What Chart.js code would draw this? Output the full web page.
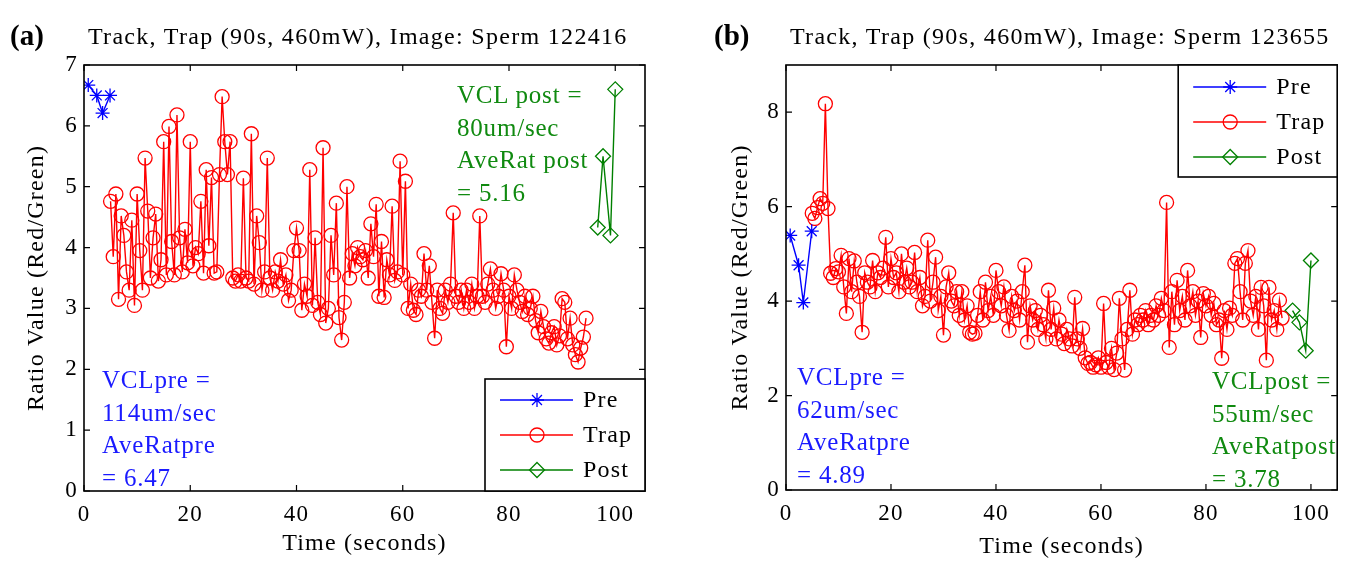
<!DOCTYPE html>
<html>
<head>
<meta charset="utf-8">
<script src="https://cdn.jsdelivr.net/npm/chart.js@4.4.1/dist/chart.umd.min.js"></script>
<style>
  body { margin: 0; background: #fff; width: 1346px; height: 561px; overflow: hidden; position: relative;
         font-family: "Liberation Serif", serif; }
  canvas { position: absolute; top: 0; }
  #chartA { left: 0; }
  #chartB { left: 673px; }
  .lbl { position: absolute; font-weight: bold; font-size: 29px; line-height: 32px; }
  .ttl { position: absolute; font-size: 24px; letter-spacing: 1.3px; line-height: 28px; white-space: nowrap; }
  .note { position: absolute; font-size: 25px; letter-spacing: 0.8px; line-height: 32.5px; white-space: pre; }
  .blue { color: #1a1aff; }
  .green { color: #108a10; }
</style>
</head>
<body>
<canvas id="chartA" width="673" height="561"></canvas>
<canvas id="chartB" width="673" height="561"></canvas>

<div class="lbl" style="left:10px;top:19px">(a)</div>
<div class="ttl" style="left:88px;top:22px">Track, Trap (90s, 460mW), Image: Sperm 122416</div>
<div class="lbl" style="left:714px;top:19px">(b)</div>
<div class="ttl" style="left:790px;top:22px">Track, Trap (90s, 460mW), Image: Sperm 123655</div>

<div class="note blue" style="left:102px;top:364px">VCLpre =
114um/sec
AveRatpre
= 6.47</div>
<div class="note green" style="left:457px;top:79px">VCL post =
80um/sec
AveRat post
= 5.16</div>
<div class="note blue" style="left:797px;top:361px">VCLpre =
62um/sec
AveRatpre
= 4.89</div>
<div class="note green" style="left:1212px;top:365px">VCLpost =
55um/sec
AveRatpost
= 3.78</div>

<script>
// ================= DATA =================
const xTicks = [0, 20, 40, 60, 80, 100];
const yTicksA = [0, 1, 2, 3, 4, 5, 6, 7];
const yTicksB = [0, 2, 4, 6, 8];

// trap frames, both sperm (seconds)
const trapTimes = [
  5.0, 5.5, 6.0, 6.5, 7.0, 7.5, 8.0, 8.5, 9.0, 9.5,
  10.0, 10.5, 11.0, 11.5, 12.0, 12.5, 13.0, 13.5, 14.0, 14.5,
  15.0, 15.5, 16.0, 16.5, 17.0, 17.5, 18.0, 18.5, 19.0, 19.5,
  20.0, 20.5, 21.0, 21.5, 22.0, 22.5, 23.0, 23.5, 24.0, 24.5,
  25.0, 25.5, 26.0, 26.5, 27.0, 27.5, 28.0, 28.5, 29.0, 29.5,
  30.0, 30.5, 31.0, 31.5, 32.0, 32.5, 33.0, 33.5, 34.0, 34.5,
  35.0, 35.5, 36.0, 36.5, 37.0, 37.5, 38.0, 38.5, 39.0, 39.5,
  40.0, 40.5, 41.0, 41.5, 42.0, 42.5, 43.0, 43.5, 44.0, 44.5,
  45.0, 45.5, 46.0, 46.5, 47.0, 47.5, 48.0, 48.5, 49.0, 49.5,
  50.0, 50.5, 51.0, 51.5, 52.0, 52.5, 53.0, 53.5, 54.0, 54.5,
  55.0, 55.5, 56.0, 56.5, 57.0, 57.5, 58.0, 58.5, 59.0, 59.5,
  60.0, 60.5, 61.0, 61.5, 62.0, 62.5, 63.0, 63.5, 64.0, 64.5,
  65.0, 65.5, 66.0, 66.5, 67.0, 67.5, 68.0, 68.5, 69.0, 69.5,
  70.0, 70.5, 71.0, 71.5, 72.0, 72.5, 73.0, 73.5, 74.0, 74.5,
  75.0, 75.5, 76.0, 76.5, 77.0, 77.5, 78.0, 78.5, 79.0, 79.5,
  80.0, 80.5, 81.0, 81.5, 82.0, 82.5, 83.0, 83.5, 84.0, 84.5,
  85.0, 85.5, 86.0, 86.5, 87.0, 87.5, 88.0, 88.5, 89.0, 89.5,
  90.0, 90.5, 91.0, 91.5, 92.0, 92.5, 93.0, 93.5, 94.0, 94.5
];

// (a) Sperm 122416
const preTimesA = [0.8, 2.4, 3.5, 4.9];
const preRatioA = [6.67, 6.50, 6.21, 6.50];
const trapRatioA = [
  4.76, 3.85, 4.88, 3.15, 4.52, 4.20, 3.60, 3.30, 4.45, 3.05,
  4.88, 3.95, 3.30, 5.47, 4.60, 3.50, 4.16, 4.55, 3.45, 3.80,
  5.74, 3.55, 5.99, 4.10, 3.55, 6.18, 4.16, 3.60, 4.30, 3.75,
  5.74, 3.70, 4.00, 3.90, 4.76, 3.58, 5.28, 4.03, 5.15, 3.58,
  3.60, 5.20, 6.48, 5.74, 5.20, 5.74, 3.50, 3.45, 3.55, 3.45,
  5.14, 3.50, 3.45, 5.87, 3.40, 4.52, 4.08, 3.30, 3.60, 5.47,
  3.50, 3.30, 3.60, 3.45, 3.80, 3.40, 3.55, 3.13, 3.30, 3.95,
  4.32, 3.95, 2.97, 3.40, 3.20, 5.28, 3.05, 4.16, 3.10, 2.90,
  5.64, 2.76, 3.00, 4.20, 3.55, 4.73, 2.85, 2.48, 3.10, 5.00,
  3.50, 3.90, 3.70, 4.00, 3.85, 3.80, 3.95, 3.50, 4.39, 3.85,
  4.71, 3.20, 4.10, 3.18, 3.80, 3.55, 4.68, 3.46, 3.60, 5.42,
  3.55, 5.09, 3.00, 3.40, 2.97, 2.90, 3.30, 3.20, 3.90, 3.30,
  3.70, 3.10, 2.51, 3.30, 3.00, 2.92, 3.30, 3.10, 3.40, 4.57,
  3.20, 3.10, 3.30, 3.00, 3.30, 3.10, 3.40, 3.00, 3.20, 4.52,
  3.20, 3.10, 3.40, 3.65, 3.30, 3.00, 3.20, 3.57, 3.30, 2.37,
  3.20, 3.00, 3.55, 3.30, 3.10, 2.95, 3.20, 2.90, 3.00, 3.20,
  2.80, 2.60, 2.95, 2.70, 2.50, 2.43, 2.60, 2.70, 2.40, 2.55,
  3.16, 3.10, 2.50, 2.84, 2.40, 2.24, 2.12, 2.35, 2.53, 2.84
];
const postTimesA = [96.7, 97.7, 99.1, 100.0];
const postRatioA = [4.33, 5.50, 4.20, 6.60];

// (b) Sperm 123655
const preTimesB = [0.8, 2.4, 3.3, 4.9];
const preRatioB = [5.39, 4.76, 3.97, 5.48];
const trapRatioB = [
  5.86, 5.75, 5.98, 6.17, 6.07, 8.18, 5.96, 4.59, 4.50, 4.69,
  4.62, 4.97, 4.30, 3.74, 4.90, 4.20, 4.85, 4.40, 4.10, 3.34,
  4.60, 4.40, 4.30, 4.86, 4.20, 4.60, 4.50, 4.70, 5.35, 4.30,
  4.90, 4.50, 4.60, 4.20, 5.00, 4.40, 4.70, 4.30, 4.40, 5.03,
  4.20, 4.50, 3.90, 4.10, 5.29, 4.00, 4.40, 4.93, 3.80, 4.10,
  3.28, 4.30, 4.60, 4.00, 3.90, 4.20, 3.70, 4.20, 3.60, 3.90,
  3.34, 3.30, 3.32, 3.70, 4.20, 3.60, 4.40, 3.80, 4.10, 3.70,
  4.65, 4.20, 3.90, 4.30, 3.70, 3.38, 4.10, 3.80, 4.00, 3.60,
  4.20, 4.76, 3.13, 3.90, 3.60, 3.80, 3.40, 3.70, 3.50, 3.20,
  4.23, 3.40, 3.85, 3.20, 3.60, 3.30, 3.10, 3.40, 3.20, 3.05,
  4.08, 3.20, 3.00, 3.42, 2.80, 2.68, 2.70, 2.60, 2.65, 2.80,
  2.60, 3.95, 2.70, 2.60, 3.00, 2.55, 2.90, 4.06, 3.20, 2.54,
  3.40, 4.23, 3.30, 3.60, 3.50, 3.70, 3.60, 3.80, 3.50, 3.70,
  3.60, 3.90, 3.70, 4.06, 3.80, 6.09, 3.02, 4.20, 3.50, 4.44,
  3.80, 4.10, 3.60, 4.65, 3.90, 4.20, 3.70, 4.00, 3.23, 4.16,
  3.90, 4.10, 3.70, 3.95, 3.50, 3.60, 2.79, 3.80, 3.40, 3.85,
  3.70, 4.80, 4.90, 4.20, 3.60, 4.80, 5.07, 4.00, 3.70, 4.10,
  3.40, 4.29, 3.90, 2.75, 4.29, 3.60, 3.80, 3.40, 4.02, 3.64
];
const postTimesB = [96.5, 97.8, 99.0, 100.0];
const postRatioB = [3.80, 3.55, 2.95, 4.86];

// ================= STYLE =================
const FONT = '"Liberation Serif", serif';
const SPACING = '1.2px';
Chart.defaults.font.family = FONT;
Chart.defaults.color = '#000';

function pairs(times, values) {
  return times.map((t, i) => ({ x: t, y: values[i] }));
}

function series(label, data, color, style, radius) {
  return {
    label: label,
    data: data,
    borderColor: color,
    borderWidth: 1.4,
    pointStyle: style,
    pointRadius: radius,
    pointBorderColor: color,
    pointBackgroundColor: 'rgba(0,0,0,0)',
    pointBorderWidth: 1.3,
    tension: 0,
    fill: false
  };
}

// legend marker (same glyphs as the data markers)
function legendMarker(ctx, style, r, x, y) {
  ctx.beginPath();
  if (style === 'circle') {
    ctx.arc(x, y, r, 0, Math.PI * 2);
  } else if (style === 'rectRot') {
    ctx.moveTo(x, y - r); ctx.lineTo(x + r, y); ctx.lineTo(x, y + r); ctx.lineTo(x - r, y); ctx.closePath();
  } else {
    for (let k = 0; k < 4; k++) {
      const a = k * Math.PI / 4;
      ctx.moveTo(x - r * Math.cos(a), y - r * Math.sin(a));
      ctx.lineTo(x + r * Math.cos(a), y + r * Math.sin(a));
    }
  }
  ctx.stroke();
}

// ================= BOX, INWARD TICKS, LEGEND =================
const framePlugin = {
  id: 'frame',
  beforeUpdate(chart) { chart.ctx.letterSpacing = SPACING; },
  beforeDraw(chart) { chart.ctx.letterSpacing = SPACING; },
  afterDatasetsDraw(chart, args, opts) {
    const { ctx, chartArea: a, scales } = chart;
    const tl = 6;
    ctx.save();
    ctx.strokeStyle = '#000';
    ctx.lineWidth = 1.2;
    ctx.beginPath();
    scales.x.ticks.forEach(t => {
      const px = scales.x.getPixelForValue(t.value);
      ctx.moveTo(px, a.bottom); ctx.lineTo(px, a.bottom - tl);
      ctx.moveTo(px, a.top); ctx.lineTo(px, a.top + tl);
    });
    scales.y.ticks.forEach(t => {
      const py = scales.y.getPixelForValue(t.value);
      ctx.moveTo(a.left, py); ctx.lineTo(a.left + tl, py);
      ctx.moveTo(a.right, py); ctx.lineTo(a.right - tl, py);
    });
    ctx.stroke();
    ctx.lineWidth = 1.6;
    ctx.strokeRect(a.left, a.top, a.right - a.left, a.bottom - a.top);

    // legend box
    const w = opts.w, h = 112;
    const x0 = a.right - w;
    const y0 = opts.at === 'bottom' ? a.bottom - h : a.top;
    ctx.fillStyle = '#fff';
    ctx.fillRect(x0, y0, w, h);
    ctx.lineWidth = 1.6;
    ctx.strokeRect(x0, y0, w, h);
    ctx.font = '24px ' + FONT;
    ctx.letterSpacing = SPACING;
    ctx.textBaseline = 'middle';
    ctx.textAlign = 'left';
    chart.data.datasets.forEach((ds, i) => {
      const y = y0 + opts.rowTop + i * opts.rowGap;
      ctx.strokeStyle = ds.borderColor;
      ctx.lineWidth = 1.3;
      ctx.beginPath();
      ctx.moveTo(x0 + 15, y); ctx.lineTo(x0 + 88, y);
      ctx.stroke();
      legendMarker(ctx, ds.pointStyle, ds.pointRadius, x0 + 52, y);
      ctx.fillStyle = '#000';
      ctx.fillText(ds.label, x0 + 98, y + 1);
    });
    ctx.restore();
  }
};

function makeChart(id, cfg) {
  return new Chart(document.getElementById(id), {
    type: 'line',
    data: {
      datasets: [
        series('Pre', cfg.pre, '#0000ff', 'star', 7),
        series('Trap', cfg.trap, '#ff0000', 'circle', 7),
        series('Post', cfg.post, '#008000', 'rectRot', 7.5)
      ]
    },
    options: {
      responsive: false,
      animation: false,
      devicePixelRatio: 1,
      layout: { padding: cfg.pad },
      plugins: {
        legend: { display: false },
        tooltip: { enabled: false },
        frame: cfg.legend
      },
      scales: {
        x: {
          type: 'linear', min: 0, max: cfg.xMax,
          grid: { display: false, drawTicks: false },
          border: { display: false },
          ticks: { color: '#000', font: { size: 23 }, padding: 10, maxRotation: 0, autoSkip: false },
          afterBuildTicks: s => { s.ticks = xTicks.map(v => ({ value: v })); },
          afterFit: s => { s.height = cfg.xH; },
          title: { display: true, text: 'Time (seconds)', color: '#000', font: { size: 24 },
                   padding: { top: 0, bottom: cfg.xTitlePad } }
        },
        y: {
          type: 'linear', min: 0, max: cfg.yMax,
          grid: { display: false, drawTicks: false },
          border: { display: false },
          ticks: { color: '#000', font: { size: 23 }, padding: 6 },
          afterBuildTicks: s => { s.ticks = cfg.yTicks.map(v => ({ value: v })); },
          afterFit: s => { s.width = cfg.yW; },
          title: { display: true, text: 'Ratio Value (Red/Green)', color: '#000', font: { size: 24 },
                   padding: { top: 0, bottom: 0 } }
        }
      }
    },
    plugins: [framePlugin]
  });
}

makeChart('chartA', {
  pre: pairs(preTimesA, preRatioA),
  trap: pairs(trapTimes, trapRatioA),
  post: pairs(postTimesA, postRatioA),
  xMax: 105.6, yMax: 7, yTicks: yTicksA,
  pad: { left: 22, right: 28, top: 65, bottom: 0 },
  yW: 62, xH: 70, xTitlePad: 3,
  legend: { at: 'bottom', w: 160, rowTop: 21, rowGap: 35 }
});

makeChart('chartB', {
  pre: pairs(preTimesB, preRatioB),
  trap: pairs(trapTimes, trapRatioB),
  post: pairs(postTimesB, postRatioB),
  xMax: 105, yMax: 9, yTicks: yTicksB,
  pad: { left: 53, right: 1, top: 65, bottom: 0 },
  yW: 60, xH: 71, xTitlePad: 0,
  legend: { at: 'top', w: 159, rowTop: 22, rowGap: 35 }
});
</script>
</body>
</html>
